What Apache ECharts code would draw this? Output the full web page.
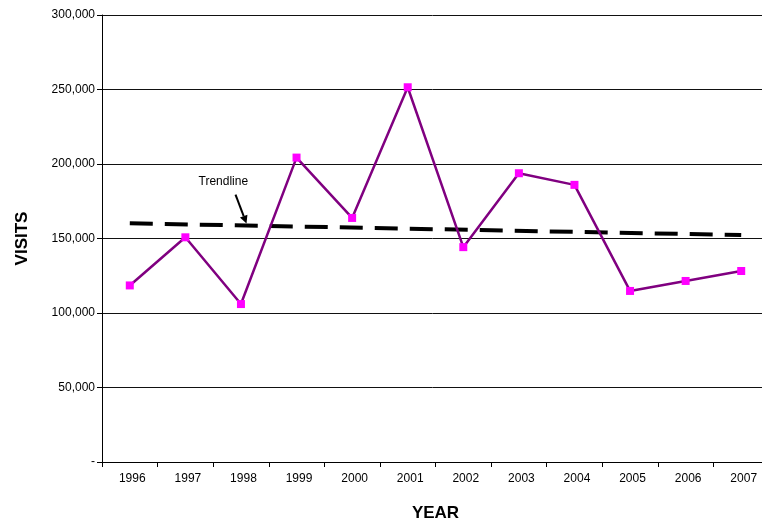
<!DOCTYPE html>
<html>
<head>
<meta charset="utf-8">
<title>Visits by Year</title>
<script src="https://cdn.jsdelivr.net/npm/echarts@6/dist/echarts.min.js"></script>
<style>
  html, body { margin: 0; padding: 0; background: #fff; }
  #chart { width: 762px; height: 521px; }
</style>
</head>
<body>
<div id="chart"></div>
<script>
// Annual visit counts
const years = ['1996', '1997', '1998', '1999', '2000', '2001', '2002', '2003', '2004', '2005', '2006', '2007'];
const visits = [118500, 150800, 106000, 204300, 163800, 251500, 144200, 193800, 186000, 114800, 121500, 128200];

// Linear trend, start and end values
const trendYears = ['1996', '2007'];
const trendValues = [160200, 152300];

// Value axis ticks
const yTicks = [0, 50000, 100000, 150000, 200000, 250000, 300000];

const FONT = '"Liberation Sans", Arial, sans-serif';

const chart = echarts.init(document.getElementById('chart'), null, { renderer: 'canvas' });

function fmt(v) {
  if (v === 0) return '-';
  return v.toLocaleString('en-US');
}

chart.setOption({
  animation: false,
  backgroundColor: '#fff',
  grid: { left: 102, top: 15, width: 667, height: 447, containLabel: false, outerBoundsMode: 'none' },
  xAxis: {
    type: 'category',
    data: years,
    boundaryGap: true,
    name: 'YEAR',
    nameLocation: 'middle',
    nameGap: 43,
    nameTextStyle: { fontFamily: FONT, fontSize: 17, fontWeight: 'bold', color: '#000' },
    axisLine: { lineStyle: { color: '#000', width: 1 } },
    axisTick: { show: true, alignWithLabel: false, length: 5, lineStyle: { color: '#000' } },
    axisLabel: { fontFamily: FONT, fontSize: 12, color: '#000', margin: 11, padding: [0, 0, 0, 5] },
    splitLine: { show: false }
  },
  yAxis: {
    type: 'value',
    min: yTicks[0],
    max: yTicks[yTicks.length - 1],
    interval: yTicks[1] - yTicks[0],
    name: 'VISITS',
    nameLocation: 'middle',
    nameRotate: 90,
    nameGap: 71,
    nameTextStyle: { fontFamily: FONT, fontSize: 17, fontWeight: 'bold', color: '#000' },
    axisLine: { show: true, lineStyle: { color: '#000', width: 1 } },
    axisTick: { show: true, length: 5, lineStyle: { color: '#000' } },
    axisLabel: { fontFamily: FONT, fontSize: 12, color: '#000', margin: 7, formatter: fmt },
    splitLine: { show: true, lineStyle: { color: '#111', width: 1 } }
  },
  series: [
    {
      name: 'Trendline',
      type: 'line',
      data: trendYears.map((y, i) => [y, trendValues[i]]),
      symbol: 'none',
      silent: true,
      z: 2,
      lineStyle: { color: '#000', width: 4, type: [23, 12], cap: 'butt' }
    },
    {
      name: 'Visits',
      type: 'line',
      data: visits,
      symbol: 'rect',
      symbolSize: 8,
      z: 3,
      itemStyle: { color: '#ff00ff', borderWidth: 0 },
      lineStyle: { color: '#800080', width: 2.5 }
    }
  ]
});

// Annotation pointing at the trendline near 1998
function drawAnnotation() {
  const slope = (trendValues[1] - trendValues[0]) / (years.indexOf(trendYears[1]) - years.indexOf(trendYears[0]));
  const idx = 2.1;
  const val = trendValues[0] + slope * idx;
  const p0 = chart.convertToPixel({ gridIndex: 0 }, [0, 0]);
  const p1 = chart.convertToPixel({ gridIndex: 0 }, [1, val]);
  const step = p1[0] - p0[0];
  const tipX = p0[0] + step * idx;
  const tipY = p1[1] - 2;
  const tailX = tipX - 11;
  const tailY = tipY - 29;
  const ang = Math.atan2(tipY - tailY, tipX - tailX);
  const hl = 8, hw = 4;
  const bx = tipX - hl * Math.cos(ang), by = tipY - hl * Math.sin(ang);
  const nx = -Math.sin(ang) * hw, ny = Math.cos(ang) * hw;
  chart.setOption({
    graphic: [
      {
        type: 'text',
        left: tailX - 37, top: tailY - 19,
        style: { text: 'Trendline', font: '12px ' + FONT, fill: '#000' },
        z: 10
      },
      {
        type: 'line',
        shape: { x1: tailX, y1: tailY, x2: bx, y2: by },
        style: { stroke: '#000', lineWidth: 2 },
        z: 10
      },
      {
        type: 'polygon',
        shape: { points: [[tipX, tipY], [bx + nx, by + ny], [bx - nx, by - ny]] },
        style: { fill: '#000' },
        z: 10
      }
    ]
  });
}
drawAnnotation();
</script>
</body>
</html>
